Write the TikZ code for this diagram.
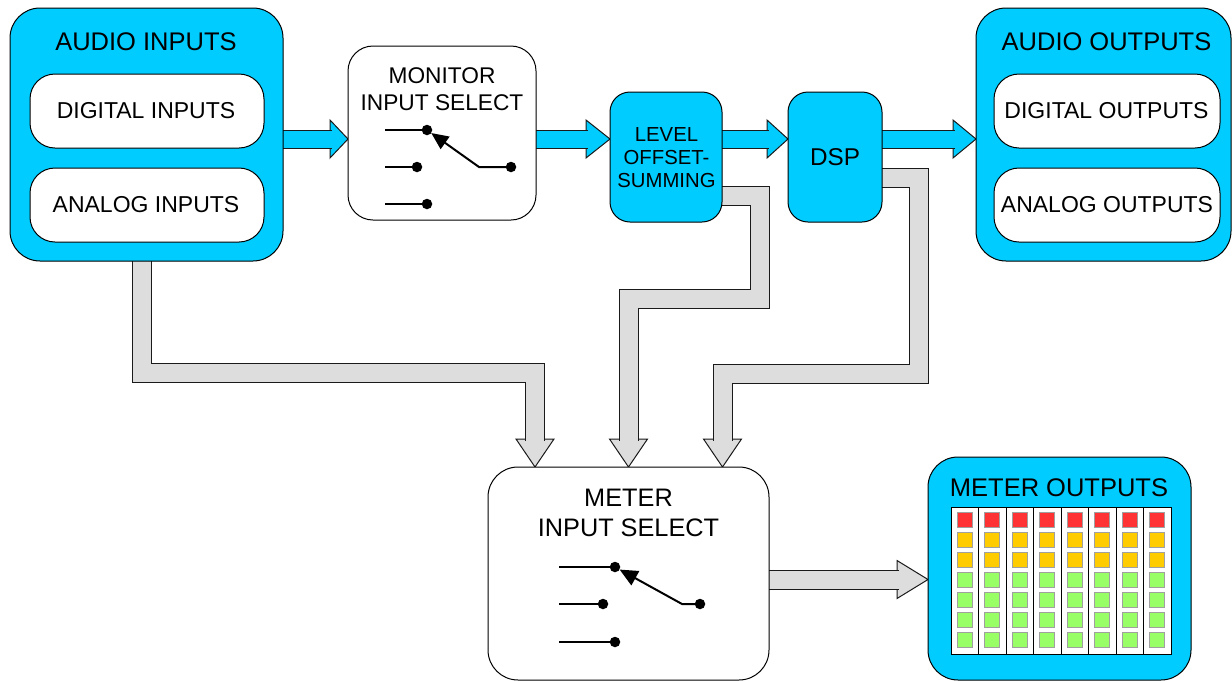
\documentclass[tikz,border=0pt]{standalone}
\usepackage{fontspec}
\setmainfont{Liberation Sans}
\usetikzlibrary{arrows.meta,calc,backgrounds}
\definecolor{skyblue}{HTML}{00CCFF}
\definecolor{pipegray}{HTML}{DDDDDD}
\definecolor{pipeedge}{HTML}{1A1A1A}
\definecolor{ledred}{HTML}{FF3333}
\definecolor{ledyellow}{HTML}{FFCC00}
\definecolor{ledgreen}{HTML}{99FF66}
\definecolor{ledrim}{HTML}{A0A0A0}
\newcommand\headright[4]{\filldraw[fill=#1,draw=pipeedge,line width=1pt,line join=miter] (#2) -- ++(-#3,-#4) -- ++(0,2*#4) -- cycle;}
\newcommand\headdown[4]{\filldraw[fill=#1,draw=pipeedge,line width=1pt,line join=miter] (#2) -- ++(-#4,-#3) -- ++(2*#4,0) -- cycle;}
\begin{document}
\begin{tikzpicture}[x=1pt,y=-1pt,
 blk/.style={draw=black,line width=1pt,inner sep=0pt,outer sep=0pt},
 bluebox/.style={blk,fill=skyblue},
 whitebox/.style={blk,fill=white},
 txt/.style={inner sep=0pt,outer sep=0pt,align=center,text=black},
 ftitle/.style={txt,font=\fontsize{25.5}{30}\selectfont},
 finner/.style={txt,font=\fontsize{23}{27}\selectfont},
 fmon/.style={txt,font=\fontsize{22.7}{27}\selectfont},
 flvl/.style={txt,font=\fontsize{20.3}{22.7}\selectfont},
 fdsp/.style={txt,font=\fontsize{24.3}{29}\selectfont},
 fmeter/.style={txt,font=\fontsize{25.3}{30}\selectfont},
 bluepipe/.style={draw=pipeedge,line width=1pt,double=skyblue,double distance=17pt,line join=miter},
 graypipe/.style={draw=pipeedge,line width=1pt,double=pipegray,double distance=18pt,line join=miter},
 wire/.style={line width=2pt},
 dot/.style={circle,fill=black,inner sep=0pt,outer sep=0pt,minimum size=10.5pt},
 led/.style={draw=ledrim,line width=1pt},
]
\useasboundingbox (0,0) rectangle (1232,681);

% boxes
\node[bluebox,rounded corners=30pt,minimum width=273pt,minimum height=253pt] (ain) at (146.5,134.5) {};
\node[whitebox,rounded corners=25pt,minimum width=234pt,minimum height=74pt] (din) at (147,111) {};
\node[whitebox,rounded corners=25pt,minimum width=234pt,minimum height=74pt] (anin) at (147,205) {};
\node[whitebox,rounded corners=25pt,minimum width=188pt,minimum height=174pt] (mon) at (442,133) {};
\node[bluebox,rounded corners=20pt,minimum width=112pt,minimum height=130pt] (lvl) at (666,157) {};
\node[bluebox,rounded corners=20pt,minimum width=94pt,minimum height=130pt] (dsp) at (835,157) {};
\node[bluebox,rounded corners=30pt,minimum width=255pt,minimum height=253pt] (aout) at (1103.5,134.5) {};
\node[whitebox,rounded corners=25pt,minimum width=226pt,minimum height=74pt] (dout) at (1107,111) {};
\node[whitebox,rounded corners=25pt,minimum width=226pt,minimum height=74pt] (anout) at (1107,205) {};
\node[whitebox,rounded corners=30pt,minimum width=281pt,minimum height=213pt] (misel) at (628.5,573.5) {};
\node[bluebox,rounded corners=30pt,minimum width=263pt,minimum height=223pt] (mout) at (1059.5,568.5) {};
\node[whitebox,minimum width=220pt,minimum height=147pt] (panel) at (1061,580.5) {};

% texts
\node[ftitle] (ain-t) at (146,42) {AUDIO INPUTS};
\node[finner] (din-t) at (146,110.5) {DIGITAL INPUTS};
\node[finner] (anin-t) at (146,205) {ANALOG INPUTS};
\node[fmon] (mon-t) at (442,89.5) {MONITOR\\INPUT SELECT};
\node[flvl] (lvl-t) at (666.5,157.5) {LEVEL\\OFFSET-\\SUMMING};
\node[fdsp] (dsp-t) at (835,157.5) {DSP};
\node[ftitle] (aout-t) at (1106.5,42) {AUDIO OUTPUTS};
\node[finner] (dout-t) at (1106.5,110.5) {DIGITAL OUTPUTS};
\node[finner] (anout-t) at (1107,205) {ANALOG OUTPUTS};
\node[fmeter] (misel-t) at (628.5,513) {METER\\INPUT SELECT};
\node[ftitle] (mout-t) at (1059,488) {METER OUTPUTS};

% meter panel
\foreach \k in {1,...,7}
  \draw[line width=1pt] ({951+27.5*\k},507) -- ({951+27.5*\k},654);
\foreach \i in {0,...,7}{
  \foreach \j/\c in {0/ledred,1/ledyellow,2/ledyellow,3/ledgreen,4/ledgreen,5/ledgreen,6/ledgreen}{
    \filldraw[led,fill=\c] ({951+27.5*\i+6.25},{512.5+20*\j}) rectangle ++(15,15);
  }}

% monitor switch
\node[dot] (ma) at (427,130) {};
\node[dot] (mb) at (417,167) {};
\node[dot] (mc) at (427,204) {};
\node[dot] (mr) at (511,167) {};
\draw[wire] (385,130) -- (ma);
\draw[wire] (385,167) -- (mb);
\draw[wire] (385,204) -- (mc);
\draw[wire,-{Triangle[length=17pt,width=15pt]}] (mr) -- (479,167) -- (ma);

% meter switch
\node[dot] (sa) at (615,567) {};
\node[dot] (sb) at (603,604) {};
\node[dot] (sc) at (615,642) {};
\node[dot] (sr) at (700,604) {};
\draw[wire] (559,567) -- (sa);
\draw[wire] (559,604) -- (sb);
\draw[wire] (559,642) -- (sc);
\draw[wire,-{Triangle[length=18pt,width=16pt]}] (sr) -- (682,604) -- (sa);

% connectors
\coordinate (flow) at (0,139);
\coordinate (flowb) at (0,579.5);
\begin{scope}[on background layer]
  \headright{skyblue}{mon.west |- flow}{18}{19}
  \draw[bluepipe] (ain.east |- flow) -- ($(mon.west |- flow)+(-16.5,0)$);
  \headright{skyblue}{lvl.west |- flow}{24}{19}
  \draw[bluepipe] (mon.east |- flow) -- ($(lvl.west |- flow)+(-22.5,0)$);
  \headright{skyblue}{dsp.west |- flow}{21}{19}
  \draw[bluepipe] (lvl.east |- flow) -- ($(dsp.west |- flow)+(-19.5,0)$);
  \headright{skyblue}{aout.west |- flow}{23}{19}
  \draw[bluepipe] (dsp.east |- flow) -- ($(aout.west |- flow)+(-21.5,0)$);

  \headdown{pipegray}{[xshift=-93.5pt]misel.north}{28}{19}
  \draw[graypipe] ([xshift=-4.5pt]ain.south) -- (142,373) -- (535,373) -- ($(misel.north)+(-93.5,-26.5)$);
  \headdown{pipegray}{misel.north}{28}{19}
  \draw[graypipe] ([yshift=-39pt]lvl.east) -- (760,196) -- (760,298.5) -- (628.5,298.5) -- ($(misel.north)+(0,-26.5)$);
  \headdown{pipegray}{[xshift=94pt]misel.north}{28}{19}
  \draw[graypipe] ([yshift=-20.5pt]dsp.east) -- (919,177.5) -- (919,373.5) -- (722.5,373.5) -- ($(misel.north)+(94,-26.5)$);
  \headright{pipegray}{mout.west |- flowb}{31}{19}
  \draw[graypipe] (misel.east |- flowb) -- ($(mout.west |- flowb)+(-29.5,0)$);
\end{scope}
\end{tikzpicture}
\end{document}
